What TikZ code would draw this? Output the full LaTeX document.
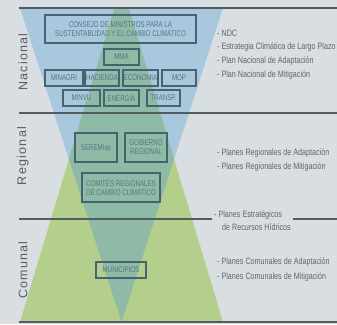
\documentclass[tikz,border=0pt]{standalone}
\usepackage{fontspec}
\setmainfont{Liberation Sans}
\newfontfamily\condfont{Liberation Sans}[FakeStretch=0.78]
\newfontfamily\boxfont{Liberation Sans}[FakeStretch=0.74]
\newfontfamily\labfont{Liberation Sans}[LetterSpace=10]
\definecolor{bgc}{HTML}{D8DEE2}
\definecolor{bluec}{HTML}{A9C8DD}
\definecolor{greenc}{HTML}{B4CF8C}
\definecolor{tealc}{HTML}{8FBAA6}
\definecolor{linec}{HTML}{535C61}
\definecolor{boxc}{HTML}{466372}
\definecolor{boxtext}{HTML}{557685}
\definecolor{listc}{HTML}{5F686D}
\definecolor{labc}{HTML}{5A5F63}
\tikzset{
  orgbox/.style={draw=boxc, line width=1.2pt, inner sep=0pt, align=center,
    text=boxtext, font=\boxfont\fontsize{8.3}{9.2}\selectfont},
  listitem/.style={anchor=west, inner sep=0pt, text=listc,
    font=\condfont\fontsize{9.2}{10}\selectfont},
  levellabel/.style={rotate=90, text=labc, inner sep=0pt,
    font=\labfont\fontsize{12.5}{14}\selectfont},
  sepline/.style={draw=linec, line width=1.2pt}
}
\begin{document}
\begin{tikzpicture}[x=1pt,y=-1pt]
\useasboundingbox (0,0) rectangle (337,324);
\fill[bgc] (0,0) rectangle (337,324);
% triangles
\begin{scope}
  \clip (0,8) rectangle (337,322);
  \fill[bluec] (20,8) -- (223,8) -- (121.5,322) -- cycle;
  \fill[greenc] (121.5,-16) -- (223,322) -- (20,322) -- cycle;
  \begin{scope}
    \clip (20,8) -- (223,8) -- (121.5,322) -- cycle;
    \fill[tealc] (121.5,-16) -- (223,322) -- (20,322) -- cycle;
  \end{scope}
\end{scope}
% separator lines
\draw[sepline] (19,8) -- (337,8);
\draw[sepline] (19,113) -- (337,113);
\draw[sepline] (19,219) -- (212,219);
\draw[sepline] (293,219) -- (337,219);
\draw[sepline] (19,322) -- (337,322);
% level labels
\node[levellabel] (nac) at (23,62) {Nacional};
\node[levellabel] (reg) at (23,156) {Regional};
\node[levellabel] (com) at (23,270) {Comunal};
% nacional boxes
\node[orgbox, minimum width=151pt, minimum height=28pt] (consejo) at (120.5,29)
  {CONSEJO DE MINISTROS PARA LA\\SUSTENTABLIDAD Y EL CAMBIO CLIMÁTICO};
\node[orgbox, minimum width=35pt, minimum height=16pt] (mma) at (121.5,57) {MMA};
\node[orgbox, minimum width=38pt, minimum height=16pt] (minagri) at (64,78) {MINAGRI};
\node[orgbox, minimum width=34pt, minimum height=16pt] (hacienda) at (102,78) {HACIENDA};
\node[orgbox, minimum width=35pt, minimum height=16pt] (economia) at (140.5,78) {ECONOMIA};
\node[orgbox, minimum width=34pt, minimum height=16pt] (mop) at (179,78) {MOP};
\node[orgbox, minimum width=37pt, minimum height=16pt] (minvu) at (81.5,98) {MINVU};
\node[orgbox, minimum width=35pt, minimum height=16pt] (energia) at (121.5,98) {ENERGÍA};
\node[orgbox, minimum width=33pt, minimum height=16pt] (transp) at (163.5,98) {TRANSP.};
% regional boxes
\node[orgbox, minimum width=42pt, minimum height=29pt] (seremi) at (96,147.5) {SEREMIas};
\node[orgbox, minimum width=42pt, minimum height=29pt] (gob) at (146,147.5) {GOBIERNO\\REGIONAL};
\node[orgbox, minimum width=78pt, minimum height=29pt] (comites) at (121,187.5) {COMITÉS REGIONALES\\DE CAMBIO CLIMÁTICO};
% comunal box
\node[orgbox, minimum width=50pt, minimum height=16pt] (muni) at (121,270) {MUNICIPIOS};
% lists
\node[listitem] (l1) at (217,33) {- NDC};
\node[listitem] (l2) at (217,47) {- Estrategia Climática de Largo Plazo};
\node[listitem] (l3) at (217,61) {- Plan Nacional de Adaptación};
\node[listitem] (l4) at (217,75) {- Plan Nacional de Mitigación};
\node[listitem] (r1) at (217,153) {- Planes Regionales de Adaptación};
\node[listitem] (r2) at (217,167) {- Planes Regionales de Mitigación};
\node[listitem] (p1) at (214,215) {- Planes Estratégicos};
\node[listitem] (p2) at (222,227) {de Recursos Hídricos};
\node[listitem] (c1) at (217,262) {- Planes Comunales de Adaptación};
\node[listitem] (c2) at (217,277) {- Planes Comunales de Mitigación};
\end{tikzpicture}
\end{document}
